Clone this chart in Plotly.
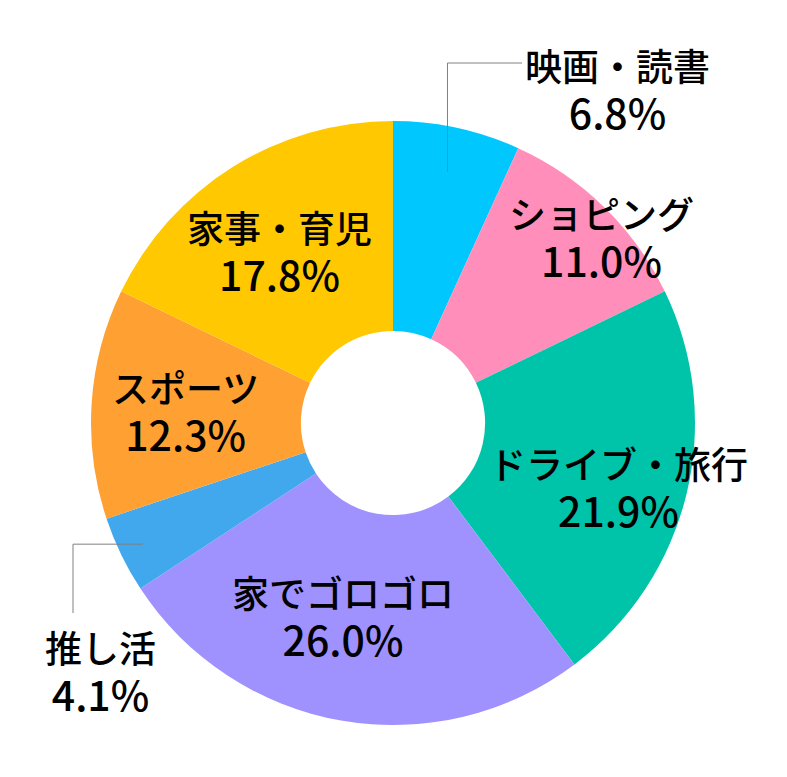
import math
import plotly.graph_objects as go

labels = ["映画・読書", "ショピング", "ドライブ・旅行", "家でゴロゴロ", "推し活", "スポーツ", "家事・育児"]
values = [6.8, 11.0, 21.9, 26.0, 4.1, 12.3, 17.8]
colors = ["#00C8FF", "#FF8FBA", "#00C4AA", "#9F92FF", "#42A8EE", "#FFA033", "#FFC800"]

# label placement style: (radius as fraction of outer radius, angle offset in degrees)
inside_style = {1: (0.926, 4.0), 2: (0.778, 2.3), 3: (0.662, 4.5), 5: (0.689, -0.4), 6: (0.681, -1.3)}

OFF = 8  # page body margin
W, H = 787 - OFF, 777 - OFF
L, T, D = 91 - OFF, 121 - OFF, 604

fig = go.Figure(go.Pie(
    labels=labels, values=values, sort=False, direction="clockwise", rotation=0,
    hole=0.305, marker=dict(colors=colors, line=dict(width=0)),
    textinfo="none", hoverinfo="label+percent", showlegend=False,
))

total = sum(values)
mids = []
cum = 0
for v in values:
    mids.append(360 * (cum + v / 2) / total)
    cum += v

def polar(theta, frac):
    t = math.radians(theta)
    return 0.5 + 0.5 * frac * math.sin(t), 0.5 + 0.5 * frac * math.cos(t)

NAME = 37
PCT = 41

def txt(i):
    return (f"<span style='font-size:{NAME}px'>{labels[i]}</span><br>"
            f"<span style='font-size:{PCT}px'>{values[i]:.1f}%</span>")

annotations = []
for i, (fr, off) in inside_style.items():
    x, y = polar(mids[i] + off, fr)
    annotations.append(dict(x=x, y=y, xref="paper", yref="paper", text=txt(i),
                            showarrow=False, xanchor="center", yanchor="middle"))

def px(xp):
    return (xp - OFF - L) / D

def py(yp):
    return (T + D - (yp - OFF)) / D

shapes = []
# 映画・読書 leader
sx, sy = polar(mids[0], 0.85)
shapes.append(dict(type="path", xref="paper", yref="paper",
                   path=f"M {sx},{sy} L {sx},{py(63)} L {px(522)},{py(63)}",
                   line=dict(color="#808080", width=1)))
annotations.append(dict(x=px(617), y=py(90), xref="paper", yref="paper", text=txt(0),
                        showarrow=False, xanchor="center", yanchor="middle"))
# 推し活 leader
sx, sy = polar(mids[4], 0.92)
shapes.append(dict(type="path", xref="paper", yref="paper",
                   path=f"M {sx},{sy} L {px(73)},{sy} L {px(73)},{py(613)}",
                   line=dict(color="#808080", width=1)))
annotations.append(dict(x=px(100), y=py(671), xref="paper", yref="paper", text=txt(4),
                        showarrow=False, xanchor="center", yanchor="middle"))

fig.update_layout(
    width=W, height=H,
    margin=dict(l=L, r=W - L - D, t=T, b=H - T - D),
    paper_bgcolor="white", plot_bgcolor="white",
    font=dict(family="Noto Sans CJK JP, Liberation Sans, sans-serif", color="#000000",
              size=NAME, weight=500),
    annotations=annotations, shapes=shapes,
)

fig.write_html("out.html")
